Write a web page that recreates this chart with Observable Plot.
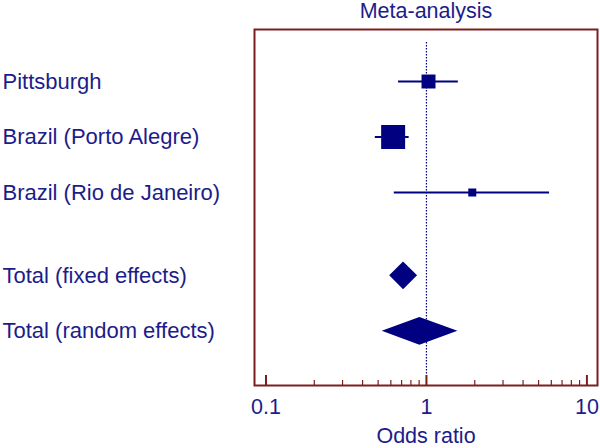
<!DOCTYPE html>
<html>
<head>
<meta charset="utf-8">
<script src="https://cdn.jsdelivr.net/npm/d3@7"></script>
<script src="https://cdn.jsdelivr.net/npm/@observablehq/plot@0.6"></script>
<style>
  html, body { margin: 0; padding: 0; background: #fff; }
  svg { display: block; }
</style>
</head>
<body>
<div id="chart"></div>
<script>
// ---- data ----
const studies = ["Pittsburgh", "Brazil (Porto Alegre)", "Brazil (Rio de Janeiro)"];
const studyOR = [1.03, 0.62, 1.93];
const studyLo = [0.67, 0.48, 0.63];
const studyHi = [1.58, 0.78, 5.85];
const studyWeight = [23.4, 68.9, 7.7]; // % weight

const totals = ["Total (fixed effects)", "Total (random effects)"];
const totalOR = [0.72, 0.91];
const totalLo = [0.59, 0.53];
const totalHi = [0.88, 1.57];

const majorTicks = [0.1, 1, 10];
const tickLabels = ["0.1", "1", "10"];
const title = "Meta-analysis";
const xLabel = "Odds ratio";

// ---- build tables ----
const navy = "#000080";
const textColor = "#1c1c8a";
const frameColor = "#7b1e1e";
const font = "Liberation Sans, Arial, sans-serif";

const studyRows = studies.map((name, i) => ({
  name, row: i, or: studyOR[i], lo: studyLo[i], hi: studyHi[i], w: studyWeight[i]
}));
const totalRows = totals.map((name, j) => ({
  name, row: studies.length + 0.5 + j, or: totalOR[j], lo: totalLo[j], hi: totalHi[j]
}));
const allRows = studyRows.concat(totalRows);

const half = 0.25;
const diamondPts = totalRows.flatMap(d => [
  {name: d.name, y: d.row - half, x1: d.or, x2: d.or},
  {name: d.name, y: d.row, x1: d.lo, x2: d.hi},
  {name: d.name, y: d.row + half, x1: d.or, x2: d.or}
]);

const minorTicks = [];
for (const base of [0.1, 1]) for (let k = 2; k <= 9; k++) minorTicks.push(+(base * k).toFixed(3));

const chart = Plot.plot({
  width: 600,
  height: 448,
  marginLeft: 254,
  marginRight: 3,
  marginTop: 29,
  marginBottom: 63,
  style: {fontFamily: font, background: "#fff"},
  x: {type: "log", domain: [0.0848, 11.64], axis: null},
  y: {type: "linear", domain: [-0.937, 5.477], reverse: true, axis: null},
  r: {type: "sqrt", domain: [0, 100], range: [0, 28.9 / Math.sqrt(Math.PI)]},
  marks: [
    Plot.ruleX([1], {stroke: navy, strokeWidth: 1.2, strokeDasharray: "1.5,1.5", insetTop: 13}),
    Plot.ruleY(studyRows, {y: "row", x1: "lo", x2: "hi", stroke: navy, strokeWidth: 2}),
    Plot.dot(studyRows, {x: "or", y: "row", r: "w", symbol: "square", fill: navy, stroke: null}),
    Plot.areaX(diamondPts, {y: "y", x1: "x1", x2: "x2", z: "name", fill: navy, curve: "linear"}),
    Plot.frame({stroke: frameColor, strokeWidth: 2}),
    Plot.tickX(majorTicks, {x: d => d, stroke: frameColor, strokeWidth: 2, insetTop: 346}),
    Plot.tickX(minorTicks, {x: d => d, stroke: frameColor, strokeWidth: 1.2, insetTop: 351}),
    Plot.text(majorTicks, {x: d => d, text: (d, i) => tickLabels[i], frameAnchor: "bottom", dy: 22,
      lineAnchor: "middle", fontSize: 21.5, fill: textColor, fontFamily: font}),
    Plot.text([xLabel], {frameAnchor: "bottom", dy: 51, lineAnchor: "middle",
      fontSize: 21.5, fill: textColor, fontFamily: font}),
    Plot.text([title], {frameAnchor: "top", dy: -18, lineAnchor: "middle",
      fontSize: 21.5, fill: textColor, fontFamily: font}),
    Plot.text(allRows, {y: "row", text: "name", frameAnchor: "left", dx: -252, textAnchor: "start",
      lineAnchor: "middle", fontSize: 22, fill: textColor, fontFamily: font})
  ]
});
document.getElementById("chart").appendChild(chart);
</script>
</body>
</html>
